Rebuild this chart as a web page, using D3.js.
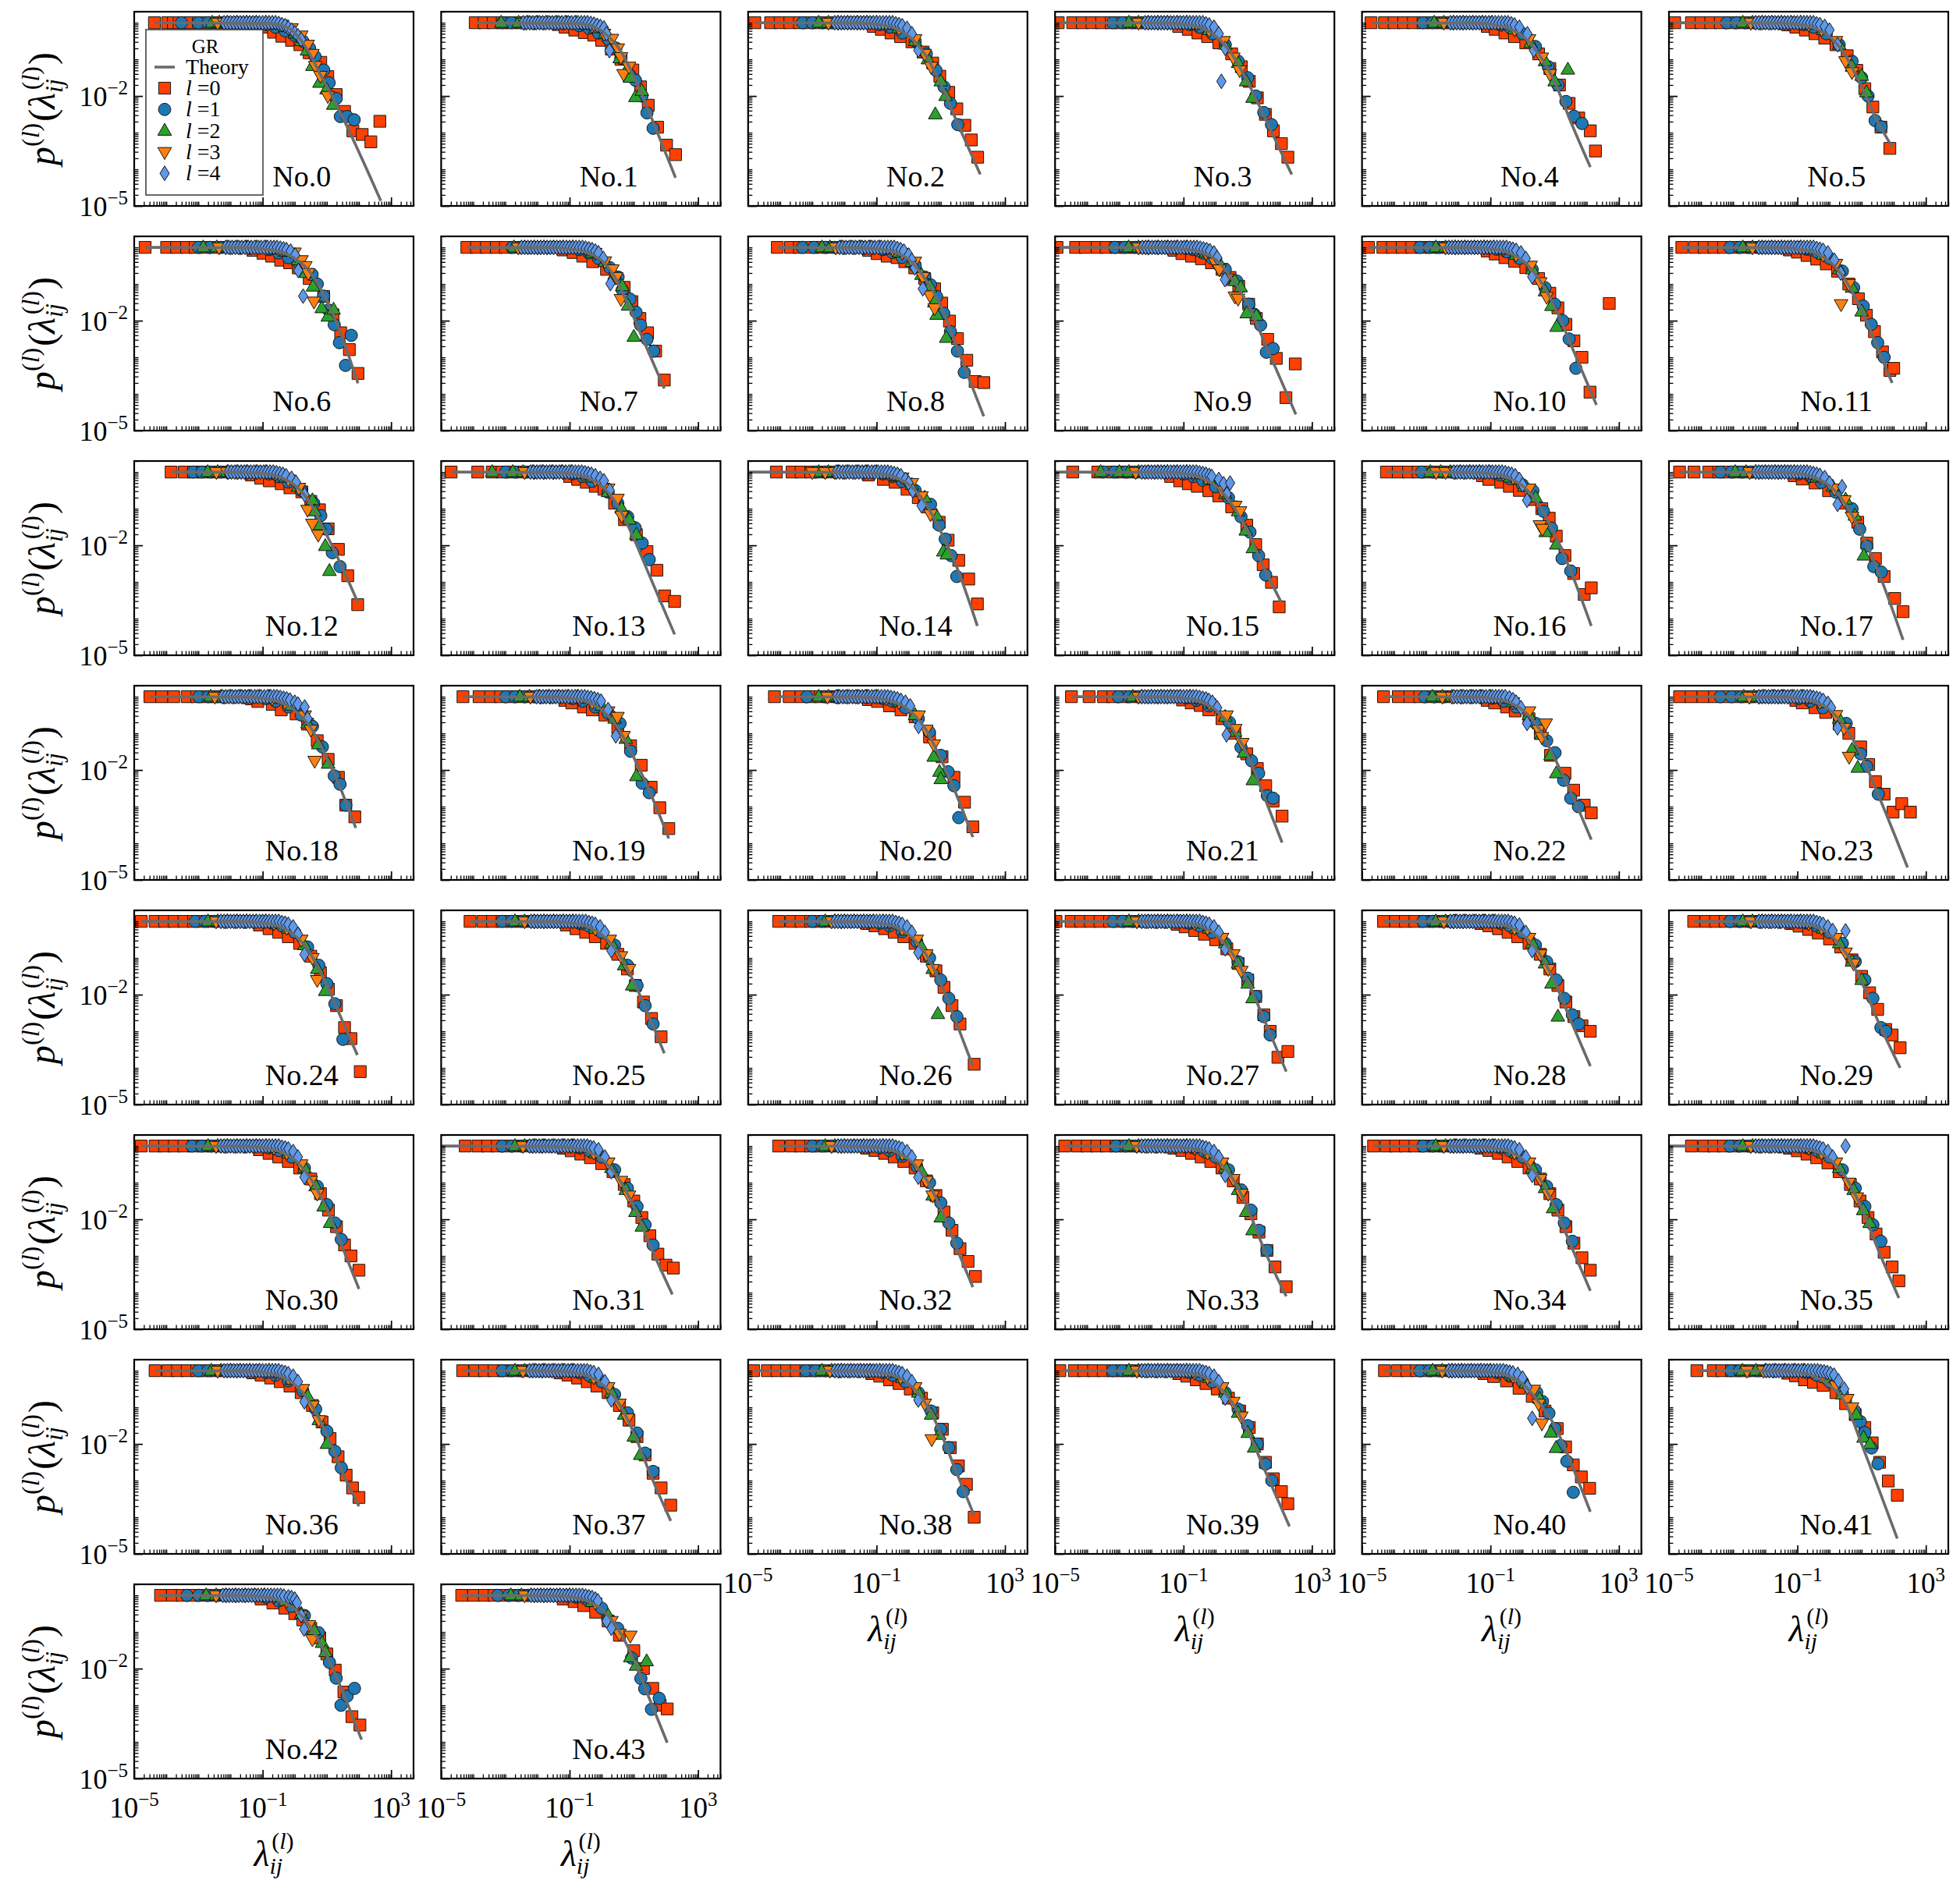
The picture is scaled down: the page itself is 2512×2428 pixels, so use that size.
<!DOCTYPE html>
<html>
<head>
<meta charset="utf-8">
<script src="https://cdn.jsdelivr.net/npm/d3@7"></script>
<style>
  body { margin: 0; background: #fff; }
  svg text { font-family: "Liberation Serif", "DejaVu Serif", "Noto Serif", "Times New Roman", serif; fill: #000; }
</style>
</head>
<body>
<svg id="fig" width="2512" height="2428" font-family="Liberation Serif, DejaVu Serif, serif"></svg>
<script>
// Each string is a list of points "log10(x),log10(y)"; a bare number means y = 1 (plateau).
const l0Pts = [
  "-4.37 -3.96 -3.78 -3.6 -3.42 -3.25 -3.0 -2.7 -2.4 -2.1 -1.8 -1.5 -1.25,-0.05 -0.97,-0.12 -0.66,-0.26 -0.4,-0.37 -0.1,-0.48 0.16,-0.6 0.45,-0.82 0.81,-1.08 1.03,-1.47 1.29,-1.96 1.55,-2.42 1.81,-2.95 2.1,-3.05 2.37,-3.25 2.65,-2.69",
  "-3.94 -3.66 -3.38 -3.1 -2.8 -2.5 -2.2 -1.9 -1.6 -1.35,-0.05 -1.14,-0.12 -0.84,-0.2 -0.54,-0.27 -0.25,-0.34 0.0,-0.48 0.3,-0.72 0.6,-1.0 0.97,-1.29 1.21,-1.75 1.45,-2.25 1.74,-2.85 2.02,-3.34 2.3,-3.6",
  "-4.79 -4.3 -4.0 -3.7 -3.4 -3.1 -2.8 -2.5 -2.2 -1.9 -1.6 -1.35 -1.1,-0.1 -0.85,-0.18 -0.55,-0.28 -0.25,-0.38 0.1,-0.52 0.45,-0.8 0.75,-1.1 0.97,-1.46 1.25,-1.9 1.5,-2.35 1.75,-2.8 1.95,-3.2 2.15,-3.67",
  "-4.9 -4.45 -4.15 -3.85 -3.55 -3.25 -2.95 -2.65 -2.35 -2.05 -1.75 -1.45 -1.15,-0.1 -0.85,-0.18 -0.55,-0.28 -0.25,-0.38 0.1,-0.55 0.5,-0.85 0.8,-1.2 1.05,-1.6 1.3,-2.05 1.55,-2.5 1.8,-2.95 2.05,-3.3 2.25,-3.67",
  "-4.72 -4.3 -4.0 -3.7 -3.4 -3.1 -2.8 -2.5 -2.2 -1.9 -1.6 -1.35 -1.1,-0.1 -0.85,-0.18 -0.55,-0.28 -0.25,-0.38 0.1,-0.55 0.5,-0.85 0.85,-1.25 1.15,-1.7 1.45,-2.2 1.75,-2.6 2.11,-2.95 2.27,-3.5",
  "-4.82 -4.3 -4.0 -3.7 -3.4 -3.1 -2.8 -2.5 -2.2 -1.9 -1.6 -1.3,-0.06 -1.05,-0.12 -0.75,-0.2 -0.45,-0.3 -0.15,-0.42 0.2,-0.6 0.55,-0.9 0.85,-1.3 1.1,-1.8 1.35,-2.3 1.6,-2.85 1.88,-3.43",
  "-4.66 -3.99 -3.68 -3.37 -3.1 -2.8 -2.5 -2.2 -1.9 -1.6 -1.3,-0.08 -0.99,-0.16 -0.72,-0.24 -0.44,-0.35 -0.16,-0.42 0.11,-0.56 0.45,-0.85 0.9,-1.34 1.19,-1.84 1.43,-2.33 1.7,-2.79 1.97,-3.44",
  "-4.2 -3.9 -3.59 -3.28 -3.0 -2.7 -2.4 -2.1 -1.8 -1.5 -1.2,-0.07 -0.89,-0.14 -0.59,-0.24 -0.28,-0.39 0.15,-0.6 0.45,-0.85 0.7,-1.09 0.94,-1.48 1.19,-1.94 1.43,-2.33 1.68,-2.83 1.95,-3.62",
  "-4.09 -3.68 -3.4 -3.0 -2.7 -2.4 -2.1 -1.8 -1.5 -1.25,-0.08 -0.98,-0.17 -0.67,-0.24 -0.36,-0.28 -0.12,-0.39 0.19,-0.56 0.5,-0.85 0.81,-1.13 1.03,-1.52 1.27,-2.01 1.52,-2.49 1.81,-3.08 2.07,-3.66 2.34,-3.69",
  "-4.94 -4.36 -4.06 -3.69 -3.41 -3.1 -2.8 -2.5 -2.2 -1.9 -1.6 -1.3,-0.08 -1.05,-0.17 -0.75,-0.24 -0.44,-0.31 -0.13,-0.42 0.2,-0.6 0.45,-0.82 0.72,-1.06 1.03,-1.55 1.27,-1.94 1.62,-2.51 1.89,-3.03 2.48,-3.18 2.19,-4.1",
  "-4.8 -4.35 -4.05 -3.75 -3.45 -3.15 -2.85 -2.55 -2.25 -1.95 -1.65 -1.35 -1.1,-0.1 -0.85,-0.18 -0.55,-0.28 -0.25,-0.38 0.1,-0.55 0.5,-0.85 0.85,-1.25 1.1,-1.65 1.35,-2.1 1.6,-2.55 1.85,-3.0 2.1,-3.95 2.7,-1.53",
  "-4.6 -4.2 -3.9 -3.6 -3.3 -3.0 -2.7 -2.4 -2.1 -1.8 -1.5 -1.25,-0.07 -1.0,-0.13 -0.7,-0.22 -0.4,-0.32 -0.1,-0.45 0.25,-0.65 0.6,-1.0 0.9,-1.4 1.15,-1.85 1.4,-2.3 1.65,-2.85 1.88,-3.36 2.0,-3.3",
  "-3.85 -3.44 -3.15 -2.85 -2.55 -2.25 -1.95 -1.65 -1.35,-0.08 -1.06,-0.17 -0.79,-0.24 -0.42,-0.32 -0.15,-0.43 0.22,-0.54 0.5,-0.8 0.77,-1.03 1.04,-1.55 1.36,-2.11 1.65,-2.83 1.96,-3.62",
  "-4.69 -3.86 -3.41 -3.1 -2.8 -2.5 -2.2 -1.9 -1.6 -1.3 -1.0,-0.12 -0.75,-0.2 -0.48,-0.28 -0.2,-0.39 0.07,-0.47 0.4,-0.85 0.71,-1.3 1.08,-1.71 1.41,-2.17 1.72,-2.68 1.96,-3.38 2.27,-3.53",
  "-4.12 -3.63 -3.35 -3.05 -2.75 -2.45 -2.15 -1.85 -1.55 -1.25,-0.08 -0.79,-0.2 -0.42,-0.28 -0.05,-0.47 0.3,-0.7 0.6,-0.95 0.95,-1.37 1.23,-1.86 1.56,-2.41 1.87,-2.92 2.14,-3.6",
  "-4.45 -3.67 -3.21 -2.9 -2.6 -2.3 -2.0 -1.7 -1.4,-0.12 -1.12,-0.24 -0.85,-0.32 -0.57,-0.39 -0.21,-0.51 0.1,-0.65 0.5,-0.95 0.97,-1.45 1.25,-1.98 1.48,-2.53 1.74,-3.01 1.98,-3.68",
  "-4.24 -3.87 -3.55 -3.25 -2.95 -2.65 -2.35 -2.05 -1.75 -1.45 -1.25,-0.1 -1.05,-0.2 -0.68,-0.28 -0.41,-0.39 -0.1,-0.5 0.3,-0.75 0.6,-1.0 0.83,-1.26 1.05,-1.75 1.32,-2.28 1.59,-2.77 1.92,-3.34 2.14,-3.16",
  "-4.67 -4.22 -3.76 -3.45 -3.15 -2.85 -2.55 -2.25 -1.95 -1.65 -1.35 -1.1,-0.1 -0.85,-0.19 -0.45,-0.3 -0.03,-0.51 0.4,-0.85 0.88,-1.37 1.16,-1.94 1.43,-2.36 1.7,-2.85 2.03,-3.45 2.29,-3.81",
  "-4.51 -4.14 -3.77 -3.35 -3.05 -2.75 -2.45 -2.15 -1.85 -1.55 -1.35,-0.06 -1.15,-0.13 -0.7,-0.21 -0.42,-0.36 0.04,-0.47 0.4,-0.75 0.7,-1.2 1.04,-1.71 1.36,-2.2 1.59,-2.96 1.87,-3.28",
  "-4.32 -3.82 -3.46 -3.15 -2.85 -2.55 -2.25 -1.95 -1.65 -1.35 -1.15,-0.1 -0.93,-0.17 -0.57,-0.28 -0.29,-0.36 0.1,-0.5 0.5,-0.85 0.9,-1.34 1.23,-1.87 1.54,-2.47 1.81,-3.03 2.09,-3.6",
  "-4.18 -3.72 -3.35 -3.05 -2.75 -2.45 -2.15 -1.85 -1.55 -1.25,-0.08 -0.97,-0.13 -0.6,-0.25 -0.24,-0.36 0.2,-0.55 0.65,-1.1 1.04,-1.64 1.41,-2.2 1.74,-2.88 2.0,-3.55",
  "-4.49 -3.94 -3.49 -3.2 -2.9 -2.6 -2.3 -2.0 -1.7 -1.4 -1.03,-0.09 -0.76,-0.17 -0.48,-0.24 -0.21,-0.36 0.2,-0.6 0.6,-1.0 0.97,-1.56 1.3,-1.96 1.56,-2.43 1.79,-2.85 2.07,-3.26",
  "-4.33 -3.87 -3.51 -3.2 -2.9 -2.6 -2.3 -2.0 -1.7 -1.4 -1.1,-0.1 -0.87,-0.17 -0.5,-0.28 -0.23,-0.39 0.2,-0.6 0.55,-1.0 0.87,-1.6 1.32,-2.09 1.59,-2.55 1.92,-2.96 2.14,-3.17",
  "-4.67 -4.31 -3.94 -3.58 -3.21 -2.85 -2.5 -2.2 -1.9 -1.6 -1.3 -1.05,-0.1 -0.85,-0.17 -0.45,-0.3 -0.12,-0.43 0.3,-0.75 0.6,-1.0 0.97,-1.37 1.22,-1.85 1.43,-2.32 1.7,-2.66 1.98,-3.15 2.25,-2.92 2.52,-3.15",
  "-4.78 -4.35 -4.05 -3.75 -3.45 -3.15 -2.85 -2.55 -2.25 -1.95 -1.65 -1.35 -1.1,-0.1 -0.8,-0.2 -0.5,-0.3 -0.2,-0.42 0.15,-0.6 0.5,-0.95 0.8,-1.4 1.05,-1.85 1.3,-2.3 1.55,-2.9 1.75,-3.2 2.04,-4.1",
  "-4.1 -3.7 -3.4 -3.1 -2.8 -2.5 -2.2 -1.9 -1.6 -1.35 -1.1,-0.1 -0.8,-0.2 -0.5,-0.3 -0.2,-0.42 0.15,-0.6 0.5,-0.9 0.8,-1.3 1.05,-1.75 1.3,-2.2 1.55,-2.65 1.85,-3.15",
  "-4.05 -3.65 -3.35 -3.05 -2.75 -2.45 -2.15 -1.85 -1.55 -1.3,-0.06 -1.05,-0.12 -0.75,-0.2 -0.45,-0.3 -0.15,-0.42 0.2,-0.6 0.55,-0.95 0.85,-1.35 1.1,-1.8 1.35,-2.3 1.6,-2.8 2.04,-3.9",
  "-4.97 -4.5 -4.2 -3.9 -3.6 -3.3 -3.0 -2.7 -2.4 -2.1 -1.8 -1.5 -1.2,-0.08 -0.95,-0.15 -0.65,-0.25 -0.35,-0.35 0.0,-0.5 0.35,-0.75 0.7,-1.15 1.0,-1.6 1.25,-2.05 1.5,-2.55 1.7,-3.0 1.94,-3.71 2.25,-3.55",
  "-4.33 -3.95 -3.65 -3.35 -3.05 -2.75 -2.45 -2.15 -1.85 -1.55 -1.3,-0.06 -1.05,-0.12 -0.75,-0.2 -0.45,-0.3 -0.15,-0.42 0.2,-0.6 0.55,-0.9 0.85,-1.3 1.1,-1.75 1.35,-2.2 1.6,-2.6 1.85,-2.85 2.11,-3.0",
  "-4.23 -3.85 -3.55 -3.25 -2.95 -2.65 -2.35 -2.05 -1.75 -1.45 -1.2,-0.06 -0.95,-0.13 -0.65,-0.22 -0.35,-0.32 0.0,-0.48 0.35,-0.7 0.7,-1.05 1.0,-1.5 1.25,-1.95 1.5,-2.4 1.75,-2.95 1.95,-3.1 2.2,-3.45",
  "-4.78 -4.35 -4.05 -3.75 -3.45 -3.15 -2.85 -2.55 -2.25 -1.95 -1.65 -1.35 -1.1,-0.1 -0.8,-0.2 -0.5,-0.3 -0.2,-0.42 0.15,-0.6 0.5,-0.9 0.8,-1.3 1.05,-1.75 1.3,-2.2 1.55,-2.7 1.75,-3.0 2.0,-3.39",
  "-4.25 -3.85 -3.55 -3.25 -2.95 -2.65 -2.35 -2.05 -1.75 -1.45 -1.2,-0.06 -0.95,-0.13 -0.65,-0.22 -0.35,-0.32 0.0,-0.48 0.35,-0.7 0.7,-1.05 1.0,-1.5 1.25,-1.95 1.5,-2.45 1.75,-2.95 2.0,-3.25 2.23,-3.33",
  "-4.05 -3.65 -3.35 -3.05 -2.75 -2.45 -2.15 -1.85 -1.55 -1.3,-0.06 -1.05,-0.12 -0.75,-0.2 -0.45,-0.3 -0.15,-0.42 0.2,-0.6 0.55,-0.95 0.85,-1.35 1.1,-1.8 1.35,-2.3 1.6,-2.8 1.85,-3.15 2.08,-3.56",
  "-4.7 -4.3 -4.0 -3.7 -3.4 -3.1 -2.8 -2.5 -2.2 -1.9 -1.6 -1.3,-0.06 -1.05,-0.12 -0.75,-0.2 -0.45,-0.3 -0.15,-0.42 0.2,-0.6 0.55,-0.95 0.85,-1.4 1.1,-1.85 1.35,-2.35 1.6,-2.85 1.85,-3.3 2.2,-3.84",
  "-4.64 -4.25 -3.95 -3.65 -3.35 -3.05 -2.75 -2.45 -2.15 -1.85 -1.55 -1.3,-0.06 -1.05,-0.12 -0.75,-0.2 -0.45,-0.3 -0.15,-0.42 0.2,-0.6 0.55,-0.9 0.85,-1.3 1.1,-1.75 1.35,-2.2 1.6,-2.65 1.85,-3.05 2.11,-3.39",
  "-4.3 -3.9 -3.6 -3.3 -3.0 -2.7 -2.4 -2.1 -1.8 -1.5 -1.25,-0.06 -1.0,-0.13 -0.7,-0.22 -0.4,-0.32 -0.05,-0.46 0.3,-0.7 0.65,-1.05 0.95,-1.5 1.2,-1.95 1.45,-2.4 1.7,-2.9 1.95,-3.3 2.16,-3.68",
  "-4.35 -3.95 -3.65 -3.35 -3.05 -2.75 -2.45 -2.15 -1.85 -1.55 -1.3,-0.06 -1.05,-0.12 -0.75,-0.2 -0.45,-0.3 -0.15,-0.42 0.2,-0.6 0.55,-0.95 0.85,-1.4 1.1,-1.85 1.35,-2.35 1.6,-2.85 1.8,-3.2 2.0,-3.46",
  "-4.33 -3.95 -3.65 -3.35 -3.05 -2.75 -2.45 -2.15 -1.85 -1.55 -1.3,-0.06 -1.05,-0.12 -0.75,-0.2 -0.45,-0.3 -0.15,-0.42 0.2,-0.6 0.55,-0.95 0.85,-1.35 1.1,-1.8 1.35,-2.3 1.6,-2.8 1.85,-3.2 2.15,-3.67",
  "-4.83 -4.4 -4.1 -3.8 -3.5 -3.2 -2.9 -2.6 -2.3 -2.0 -1.7 -1.4 -1.15,-0.08 -0.9,-0.15 -0.6,-0.25 -0.3,-0.35 0.05,-0.5 0.4,-0.75 0.75,-1.15 1.05,-1.6 1.3,-2.1 1.55,-2.6 1.8,-3.1 2.04,-4.0",
  "-4.85 -4.4 -4.1 -3.8 -3.5 -3.2 -2.9 -2.6 -2.3 -2.0 -1.7 -1.4 -1.15,-0.08 -0.9,-0.15 -0.6,-0.25 -0.3,-0.35 0.05,-0.5 0.4,-0.75 0.75,-1.1 1.05,-1.55 1.3,-2.0 1.55,-2.5 1.8,-2.95 2.05,-3.3 2.25,-3.63",
  "-4.3 -3.9 -3.6 -3.3 -3.0 -2.7 -2.4 -2.1 -1.8 -1.5 -1.2,-0.08 -0.9,-0.16 -0.5,-0.28 -0.11,-0.48 0.3,-0.7 0.7,-1.1 1.08,-1.58 1.34,-2.08 1.58,-2.57 1.83,-2.9 2.09,-3.21",
  "-4.13 -3.62 -3.35 -3.05 -2.75 -2.45 -2.15 -1.85 -1.55 -1.3,-0.07 -1.06,-0.14 -0.78,-0.25 -0.5,-0.32 -0.2,-0.4 0.2,-0.6 0.5,-0.9 0.8,-1.2 1.1,-1.55 1.33,-1.97 1.56,-2.5 1.83,-3.01 2.11,-3.4",
  "-4.18 -3.81 -3.5 -3.2 -2.9 -2.6 -2.3 -2.0 -1.7 -1.42 -1.05,-0.1 -0.68,-0.21 -0.31,-0.35 0.0,-0.5 0.25,-0.67 0.5,-0.9 0.78,-1.16 1.0,-1.6 1.26,-2.04 1.53,-2.64 1.78,-3.31 2.03,-3.54",
  "-4.36 -3.99 -3.65 -3.35 -3.05 -2.75 -2.45 -2.15 -1.85 -1.55 -1.2,-0.1 -0.86,-0.17 -0.56,-0.28 -0.19,-0.46 0.2,-0.7 0.55,-1.09 1.0,-1.51 1.3,-2.0 1.59,-2.54 1.82,-3.0 2.04,-3.1"
];
const l1Pts = [
  "-3.53 -3.0 -2.7 -2.4 -2.1 -1.8 -1.5 -1.2 -0.9,-0.05 -0.6,-0.12 -0.3,-0.22 0.0,-0.35 0.25,-0.5 0.46,-0.69 0.63,-0.92 0.9,-1.29 1.07,-1.64 1.29,-2.07 1.42,-2.56 1.63,-2.56 1.85,-2.65",
  "-3.09 -2.81 -2.5 -2.2 -1.9 -1.6 -1.3 -1.0 -0.7,-0.08 -0.4,-0.15 -0.1,-0.28 0.2,-0.45 0.44,-0.69 0.6,-0.97 0.88,-1.43 1.05,-1.57 1.25,-2.0 1.41,-2.46 1.6,-2.88",
  "-3.3 -3.0 -2.7 -2.4 -2.1 -1.8 -1.5 -1.2 -0.9,-0.05 -0.6,-0.12 -0.2,-0.28 0.2,-0.5 0.55,-0.85 0.85,-1.3 1.1,-1.75 1.3,-2.2 1.53,-2.78",
  "-3.2 -2.9 -2.6 -2.3 -2.0 -1.7 -1.4 -1.1 -0.8,-0.05 -0.5,-0.12 -0.1,-0.3 0.3,-0.6 0.7,-1.05 1.0,-1.5 1.25,-2.0 1.5,-2.45 1.74,-2.78",
  "-3.1 -2.8 -2.5 -2.2 -1.9 -1.6 -1.3 -1.0 -0.7,-0.05 -0.4,-0.12 0.0,-0.3 0.4,-0.65 0.8,-1.2 1.1,-1.7 1.35,-2.15 1.6,-2.55 1.85,-2.75",
  "-3.2 -2.9 -2.6 -2.3 -2.0 -1.7 -1.4 -1.1 -0.8,-0.05 -0.5,-0.12 -0.1,-0.3 0.3,-0.6 0.7,-1.05 1.0,-1.5 1.2,-2.0 1.42,-2.67 1.61,-2.84",
  "-3.0 -2.64 -2.3 -2.0 -1.7 -1.4 -1.1 -0.8,-0.06 -0.5,-0.15 -0.2,-0.28 0.15,-0.45 0.54,-0.74 0.7,-1.0 0.9,-1.33 1.05,-1.71 1.23,-2.11 1.39,-2.6 1.76,-2.4 1.58,-3.22",
  "-2.79 -2.5 -2.2 -1.9 -1.6 -1.3 -1.0 -0.7,-0.06 -0.4,-0.15 -0.1,-0.3 0.25,-0.55 0.51,-0.81 0.64,-1.16 0.88,-1.41 1.07,-1.77 1.21,-2.12 1.41,-2.51 1.62,-2.83",
  "-3.31 -2.95 -2.6 -2.3 -2.0 -1.7 -1.4 -1.1 -0.8,-0.06 -0.5,-0.14 -0.2,-0.27 0.2,-0.5 0.5,-0.81 0.68,-1.02 0.87,-1.34 1.09,-1.8 1.3,-2.3 1.52,-2.83 1.73,-3.41",
  "-3.14 -2.83 -2.5 -2.2 -1.9 -1.6 -1.3 -1.0 -0.7,-0.06 -0.4,-0.15 -0.1,-0.3 0.3,-0.6 0.66,-0.92 1.03,-1.55 1.21,-1.83 1.4,-2.12 1.58,-2.86 1.79,-2.76",
  "-3.2 -2.9 -2.6 -2.3 -2.0 -1.7 -1.4 -1.1 -0.8,-0.05 -0.5,-0.12 -0.1,-0.3 0.3,-0.6 0.7,-1.1 1.0,-1.55 1.25,-2.0 1.45,-2.5 1.66,-3.3",
  "-3.1 -2.8 -2.5 -2.2 -1.9 -1.6 -1.3 -1.0 -0.7,-0.05 -0.4,-0.12 0.0,-0.3 0.4,-0.65 0.75,-1.1 1.05,-1.6 1.3,-2.1 1.5,-2.6 1.7,-3.0",
  "-3.17 -2.89 -2.6 -2.3 -2.0 -1.7 -1.4 -1.1 -0.8,-0.05 -0.5,-0.13 -0.2,-0.27 0.2,-0.5 0.59,-0.85 0.81,-1.19 0.99,-1.56 1.17,-2.2 1.41,-2.58",
  "-2.99 -2.7 -2.4 -2.1 -1.8 -1.5 -1.2 -0.9,-0.05 -0.6,-0.12 -0.3,-0.25 0.2,-0.55 0.5,-0.85 0.81,-1.22 1.04,-1.52 1.26,-1.94 1.48,-2.39",
  "-2.89 -2.6 -2.3 -2.0 -1.7 -1.4 -1.1 -0.8,-0.05 -0.5,-0.12 -0.2,-0.25 0.2,-0.5 0.68,-0.88 0.95,-1.45 1.14,-1.83 1.32,-2.28 1.5,-2.85",
  "-3.49 -3.15 -2.8 -2.5 -2.2 -1.9 -1.6 -1.3 -1.0,-0.05 -0.7,-0.12 -0.4,-0.22 0.0,-0.4 0.4,-0.7 0.79,-1.22 1.07,-1.64 1.34,-2.28 1.56,-2.81",
  "-3.14 -2.8 -2.5 -2.2 -1.9 -1.6 -1.3 -1.0 -0.7,-0.08 -0.4,-0.18 0.0,-0.35 0.32,-0.51 0.65,-1.07 0.9,-1.53 1.23,-2.36 1.5,-2.7",
  "-3.4 -3.05 -2.75 -2.45 -2.15 -1.85 -1.55 -1.25 -0.95,-0.05 -0.6,-0.12 -0.25,-0.28 0.2,-0.55 0.7,-1.0 0.94,-1.56 1.16,-2.02 1.38,-2.58 1.61,-2.73",
  "-2.99 -2.7 -2.4 -2.1 -1.8 -1.5 -1.2 -0.9,-0.05 -0.6,-0.12 -0.2,-0.28 0.2,-0.5 0.55,-0.81 0.86,-1.37 1.23,-2.16 1.41,-2.39 1.59,-2.96",
  "-2.99 -2.7 -2.4 -2.1 -1.8 -1.5 -1.2 -0.9,-0.05 -0.6,-0.12 -0.2,-0.28 0.2,-0.45 0.57,-0.73 0.9,-1.49 1.26,-2.36 1.48,-2.62",
  "-3.17 -2.62 -2.3 -2.0 -1.7 -1.4 -1.1 -0.8,-0.05 -0.5,-0.12 -0.1,-0.3 0.3,-0.6 0.64,-0.96 1.0,-1.6 1.23,-2.05 1.41,-2.43 1.56,-3.3",
  "-3.03 -2.7 -2.4 -2.1 -1.8 -1.5 -1.2 -0.9,-0.03 -0.6,-0.1 -0.2,-0.25 0.43,-0.7 0.79,-1.38 1.12,-1.75 1.34,-2.09 1.61,-2.7 1.79,-2.77",
  "-3.05 -2.75 -2.45 -2.15 -1.85 -1.55 -1.25 -0.95,-0.04 -0.6,-0.12 -0.2,-0.28 0.41,-0.73 0.75,-1.2 1.01,-1.53 1.28,-2.28 1.5,-2.77 1.74,-3.0",
  "-3.4 -3.05 -2.75 -2.45 -2.15 -1.85 -1.55 -1.25 -0.95,-0.05 -0.6,-0.12 -0.2,-0.3 0.52,-0.73 0.97,-1.56 1.16,-1.9 1.52,-2.66",
  "-3.1 -2.8 -2.5 -2.2 -1.9 -1.6 -1.3 -1.0 -0.7,-0.05 -0.4,-0.12 0.0,-0.3 0.4,-0.7 0.75,-1.2 1.0,-1.7 1.25,-2.25 1.5,-3.22",
  "-3.1 -2.8 -2.5 -2.2 -1.9 -1.6 -1.3 -1.0 -0.7,-0.05 -0.4,-0.12 0.0,-0.3 0.4,-0.65 0.8,-1.2 1.1,-1.75 1.35,-2.3 1.6,-2.8",
  "-3.0 -2.7 -2.4 -2.1 -1.8 -1.5 -1.2 -0.9,-0.05 -0.6,-0.12 -0.2,-0.28 0.25,-0.55 0.65,-1.0 1.0,-1.6 1.25,-2.1 1.5,-2.6",
  "-3.2 -2.9 -2.6 -2.3 -2.0 -1.7 -1.4 -1.1 -0.8,-0.05 -0.5,-0.12 -0.1,-0.3 0.3,-0.6 0.7,-1.1 1.0,-1.55 1.25,-2.05 1.5,-2.6 1.7,-3.1",
  "-3.1 -2.8 -2.5 -2.2 -1.9 -1.6 -1.3 -1.0 -0.7,-0.05 -0.4,-0.12 0.0,-0.3 0.4,-0.65 0.75,-1.1 1.05,-1.6 1.3,-2.1 1.55,-2.55 1.75,-2.8",
  "-3.1 -2.8 -2.5 -2.2 -1.9 -1.6 -1.3 -1.0 -0.7,-0.05 -0.4,-0.12 0.0,-0.3 0.4,-0.6 0.8,-1.1 1.1,-1.6 1.35,-2.1 1.6,-2.9 1.75,-3.0",
  "-3.2 -2.9 -2.6 -2.3 -2.0 -1.7 -1.4 -1.1 -0.8,-0.05 -0.5,-0.12 -0.1,-0.3 0.3,-0.6 0.7,-1.1 1.0,-1.6 1.25,-2.1 1.45,-2.55",
  "-3.1 -2.8 -2.5 -2.2 -1.9 -1.6 -1.3 -1.0 -0.7,-0.05 -0.4,-0.12 0.0,-0.3 0.4,-0.65 0.8,-1.15 1.1,-1.65 1.35,-2.15 1.6,-2.7",
  "-3.0 -2.7 -2.4 -2.1 -1.8 -1.5 -1.2 -0.9,-0.05 -0.6,-0.12 -0.2,-0.28 0.25,-0.55 0.65,-1.0 1.0,-1.55 1.25,-2.1 1.5,-2.65",
  "-3.1 -2.8 -2.5 -2.2 -1.9 -1.6 -1.3 -1.0 -0.7,-0.05 -0.4,-0.12 0.0,-0.3 0.4,-0.65 0.8,-1.2 1.1,-1.75 1.35,-2.3 1.6,-2.85",
  "-3.1 -2.8 -2.5 -2.2 -1.9 -1.6 -1.3 -1.0 -0.7,-0.05 -0.4,-0.12 0.0,-0.3 0.4,-0.65 0.75,-1.1 1.05,-1.6 1.3,-2.1 1.55,-2.6",
  "-3.1 -2.8 -2.5 -2.2 -1.9 -1.6 -1.3 -1.0 -0.7,-0.05 -0.4,-0.12 0.0,-0.3 0.4,-0.65 0.8,-1.15 1.1,-1.65 1.35,-2.15 1.6,-2.6",
  "-3.0 -2.7 -2.4 -2.1 -1.8 -1.5 -1.2 -0.9,-0.05 -0.6,-0.12 -0.2,-0.28 0.25,-0.55 0.65,-1.05 1.0,-1.65 1.25,-2.2 1.45,-2.65",
  "-3.1 -2.8 -2.5 -2.2 -1.9 -1.6 -1.3 -1.0 -0.7,-0.05 -0.4,-0.12 0.0,-0.3 0.4,-0.65 0.8,-1.15 1.1,-1.7 1.35,-2.25 1.6,-2.75",
  "-3.2 -2.9 -2.6 -2.3 -2.0 -1.7 -1.4 -1.1 -0.8,-0.05 -0.5,-0.12 -0.1,-0.3 0.3,-0.6 0.7,-1.1 1.0,-1.6 1.25,-2.1 1.5,-2.7 1.7,-3.3",
  "-3.2 -2.9 -2.6 -2.3 -2.0 -1.7 -1.4 -1.1 -0.8,-0.05 -0.5,-0.12 -0.1,-0.3 0.3,-0.6 0.7,-1.05 1.0,-1.5 1.3,-2.0 1.55,-2.55 1.75,-3.0",
  "-3.2 -2.9 -2.6 -2.3 -2.0 -1.7 -1.4 -1.1 -0.8,-0.05 -0.4,-0.15 0.0,-0.3 0.44,-0.59 0.62,-0.84 0.82,-1.16 1.01,-1.58 1.19,-2.04 1.38,-2.47 1.58,-3.32",
  "-3.07 -2.8 -2.5 -2.2 -1.9 -1.6 -1.3 -1.0 -0.7,-0.05 -0.4,-0.12 0.0,-0.3 0.4,-0.6 0.78,-1.09 0.96,-1.39 1.1,-1.69 1.31,-2.11 1.51,-2.54",
  "-3.36 -2.99 -2.7 -2.4 -2.1 -1.8 -1.5 -1.2 -0.9,-0.05 -0.5,-0.15 -0.1,-0.3 0.3,-0.55 0.74,-1.02 1.08,-1.83 1.29,-2.26 1.44,-3.0 1.63,-2.75 1.86,-2.54",
  "-3.24 -2.9 -2.6 -2.3 -2.0 -1.7 -1.4 -1.1 -0.8,-0.05 -0.4,-0.15 0.0,-0.35 0.5,-0.9 0.93,-1.71 1.22,-2.27 1.34,-2.55 1.55,-3.11 1.79,-2.81"
];
const l2Pts = [
  "-2.57 -2.35 -2.1 -1.8 -1.5 -1.2 -0.9 -0.6,-0.05 -0.3,-0.12 0.0,-0.3 0.2,-0.5 0.38,-0.76 0.55,-1.18 0.77,-1.64 0.99,-1.82 1.2,-2.24",
  "-3.13 -2.59 -2.3 -2.0 -1.7 -1.4 -1.1 -0.8 -0.5,-0.05 -0.2,-0.15 0.1,-0.3 0.35,-0.6 0.56,-0.97 0.8,-1.26 0.88,-1.5 1.05,-2.03 1.25,-1.86",
  "-2.8 -2.5 -2.2 -1.9 -1.6 -1.3 -1.0 -0.7,-0.05 -0.3,-0.15 0.2,-0.5 0.6,-1.0 0.83,-2.5 1.0,-1.6 1.15,-2.0",
  "-2.7 -2.4 -2.1 -1.8 -1.5 -1.2 -0.9 -0.6,-0.05 -0.2,-0.2 0.3,-0.6 0.7,-1.1 0.95,-1.6 1.15,-2.05",
  "-2.75 -2.45 -2.15 -1.85 -1.55 -1.25 -0.95 -0.65,-0.05 -0.25,-0.18 0.25,-0.55 0.7,-1.05 1.0,-1.6 1.41,-1.28",
  "-2.7 -2.4 -2.1 -1.8 -1.5 -1.2 -0.9 -0.6,-0.05 -0.2,-0.2 0.3,-0.6 0.7,-1.2 1.0,-1.45 1.15,-1.9",
  "-2.85 -2.43 -2.1 -1.8 -1.5 -1.2 -0.9 -0.6,-0.05 -0.3,-0.12 0.1,-0.35 0.35,-0.7 0.57,-1.07 0.84,-1.66 1.03,-1.89 1.21,-1.7",
  "-2.73 -2.4 -2.1 -1.8 -1.5 -1.2 -0.9 -0.6,-0.05 -0.3,-0.15 0.1,-0.4 0.4,-0.75 0.64,-1.06 0.82,-1.59 1.0,-2.44",
  "-2.7 -2.45 -2.1 -1.8 -1.5 -1.2 -0.9 -0.6,-0.05 -0.3,-0.14 0.1,-0.4 0.4,-0.75 0.66,-1.06 0.8,-1.5 0.87,-1.84 1.17,-2.47",
  "-2.71 -2.4 -2.1 -1.8 -1.5 -1.2 -0.9 -0.6,-0.05 -0.3,-0.14 0.1,-0.4 0.6,-0.92 0.78,-1.09 0.97,-1.8 1.27,-1.87",
  "-2.7 -2.4 -2.1 -1.8 -1.5 -1.2 -0.9 -0.6,-0.05 -0.2,-0.2 0.3,-0.6 0.7,-1.2 0.9,-1.6 1.06,-2.17",
  "-2.7 -2.4 -2.1 -1.8 -1.5 -1.2 -0.9 -0.6,-0.05 -0.2,-0.2 0.3,-0.6 0.7,-1.1 1.0,-1.75",
  "-2.71 -2.4 -2.1 -1.8 -1.5 -1.2 -0.9 -0.6,-0.05 -0.3,-0.15 0.1,-0.4 0.55,-0.77 0.62,-1.07 0.77,-1.45 0.95,-2.02 1.08,-2.7",
  "-3.41 -2.77 -2.45 -2.15 -1.85 -1.55 -1.25 -0.95 -0.65,-0.05 -0.3,-0.15 0.2,-0.55 0.62,-1.0 0.86,-1.3 1.08,-1.71",
  "-2.8 -2.5 -2.2 -1.9 -1.6 -1.3 -1.0 -0.7,-0.05 -0.4,-0.12 0.1,-0.35 0.5,-0.7 0.86,-1.19 1.08,-2.17 1.19,-2.25",
  "-3.58 -3.0 -2.7 -2.4 -2.1 -1.8 -1.5 -1.2 -0.9 -0.6,-0.05 -0.2,-0.2 0.3,-0.6 0.7,-1.07 0.94,-1.6 1.16,-2.08",
  "-2.87 -2.55 -2.25 -1.95 -1.65 -1.35 -1.05 -0.75,-0.05 -0.4,-0.15 0.05,-0.4 0.41,-0.7 0.72,-1.64 1.05,-1.98",
  "-2.94 -2.6 -2.3 -2.0 -1.7 -1.4 -1.1 -0.8,-0.05 -0.4,-0.15 0.1,-0.4 0.5,-0.75 0.79,-1.19 1.07,-2.28",
  "-2.62 -2.3 -2.0 -1.7 -1.4 -1.1 -0.8 -0.5,-0.05 -0.1,-0.25 0.4,-0.73 0.73,-1.3 1.04,-1.83",
  "-2.55 -2.25 -1.95 -1.65 -1.35 -1.05 -0.75 -0.45,-0.05 0.0,-0.25 0.4,-0.6 0.75,-1.15 1.08,-2.17",
  "-2.8 -2.5 -2.2 -1.9 -1.6 -1.3 -1.0 -0.7,-0.05 -0.3,-0.15 0.2,-0.5 0.78,-1.64 0.96,-2.05 1.0,-2.25",
  "-2.58 -2.3 -2.0 -1.7 -1.4 -1.1 -0.8 -0.5,-0.05 -0.1,-0.2 0.3,-0.55 0.61,-0.96 0.88,-1.53 1.16,-2.28",
  "-2.81 -2.5 -2.2 -1.9 -1.6 -1.3 -1.0 -0.7,-0.05 -0.3,-0.15 0.2,-0.5 0.59,-1.04 0.87,-1.6 1.05,-2.09",
  "-2.67 -2.35 -2.05 -1.75 -1.45 -1.15 -0.85 -0.55,-0.05 -0.2,-0.18 0.3,-0.6 0.7,-1.45 0.88,-1.94",
  "-2.7 -2.4 -2.1 -1.8 -1.5 -1.2 -0.9 -0.6,-0.05 -0.2,-0.2 0.3,-0.65 0.7,-1.3 0.95,-1.9",
  "-2.7 -2.4 -2.1 -1.8 -1.5 -1.2 -0.9 -0.6,-0.05 -0.2,-0.2 0.3,-0.6 0.7,-1.2 0.95,-1.75",
  "-2.6 -2.3 -2.0 -1.7 -1.4 -1.1 -0.8 -0.5,-0.05 -0.1,-0.25 0.4,-0.7 0.75,-1.3 0.91,-2.53",
  "-2.7 -2.4 -2.1 -1.8 -1.5 -1.2 -0.9 -0.6,-0.05 -0.2,-0.2 0.3,-0.6 0.7,-1.15 1.0,-1.7 1.15,-2.1",
  "-2.7 -2.4 -2.1 -1.8 -1.5 -1.2 -0.9 -0.6,-0.05 -0.2,-0.2 0.3,-0.6 0.7,-1.15 0.9,-1.7 1.1,-2.6",
  "-2.7 -2.4 -2.1 -1.8 -1.5 -1.2 -0.9 -0.6,-0.05 -0.2,-0.2 0.3,-0.6 0.7,-1.1 1.0,-1.6",
  "-2.7 -2.4 -2.1 -1.8 -1.5 -1.2 -0.9 -0.6,-0.05 -0.2,-0.2 0.3,-0.6 0.65,-1.1 0.9,-1.65 1.1,-2.1",
  "-2.7 -2.4 -2.1 -1.8 -1.5 -1.2 -0.9 -0.6,-0.05 -0.2,-0.2 0.3,-0.6 0.75,-1.2 1.05,-1.8 1.25,-2.2",
  "-2.6 -2.3 -2.0 -1.7 -1.4 -1.1 -0.8 -0.5,-0.05 -0.1,-0.25 0.4,-0.7 0.75,-1.35 1.0,-1.95",
  "-2.7 -2.4 -2.1 -1.8 -1.5 -1.2 -0.9 -0.6,-0.05 -0.2,-0.2 0.3,-0.6 0.7,-1.2 0.95,-1.8 1.15,-2.3",
  "-2.7 -2.4 -2.1 -1.8 -1.5 -1.2 -0.9 -0.6,-0.05 -0.2,-0.2 0.3,-0.6 0.7,-1.15 0.95,-1.7",
  "-2.7 -2.4 -2.1 -1.8 -1.5 -1.2 -0.9 -0.6,-0.05 -0.2,-0.2 0.3,-0.6 0.75,-1.2 1.05,-1.75 1.25,-2.1",
  "-2.6 -2.3 -2.0 -1.7 -1.4 -1.1 -0.8 -0.5,-0.05 -0.1,-0.25 0.4,-0.7 0.75,-1.35 1.0,-2.0",
  "-2.7 -2.4 -2.1 -1.8 -1.5 -1.2 -0.9 -0.6,-0.05 -0.2,-0.2 0.3,-0.6 0.7,-1.2 1.0,-1.8 1.2,-2.3",
  "-2.7 -2.4 -2.1 -1.8 -1.5 -1.2 -0.9 -0.6,-0.05 -0.2,-0.2 0.3,-0.6 0.7,-1.2 0.95,-1.75",
  "-2.7 -2.4 -2.1 -1.8 -1.5 -1.2 -0.9 -0.6,-0.05 -0.2,-0.2 0.3,-0.6 0.7,-1.15 1.0,-1.7 1.2,-2.1",
  "-2.8 -2.5 -2.2 -1.9 -1.6 -1.3 -1.0 -0.7,-0.05 -0.3,-0.15 0.1,-0.35 0.53,-0.77 0.88,-1.69 1.04,-2.11",
  "-2.71 -2.29 -2.0 -1.7 -1.4 -1.1 -0.8 -0.5,-0.05 -0.1,-0.2 0.4,-0.65 0.83,-1.2 1.06,-1.83 1.26,-2.0",
  "-2.76 -2.45 -2.15 -1.85 -1.55 -1.25 -0.95 -0.65,-0.05 -0.3,-0.15 0.2,-0.5 0.6,-0.95 0.85,-1.3 0.96,-1.55",
  "-2.83 -2.5 -2.2 -1.9 -1.6 -1.3 -1.0 -0.7,-0.05 -0.3,-0.18 0.2,-0.55 0.89,-1.69 1.07,-1.92 1.4,-1.8"
];
const l3Pts = [
  "-2.4 -2.2 -1.9 -1.6 -1.3 -1.0 -0.7 -0.4,-0.05 -0.1,-0.15 0.2,-0.35 0.4,-0.6 0.55,-0.85 0.64,-1.18 0.8,-1.45 1.03,-2.0",
  "-2.4 -2.1 -1.8 -1.5 -1.2 -0.9 -0.6 -0.3,-0.08 0.07,-0.3 0.32,-0.44 0.5,-0.7 0.6,-0.94 0.68,-1.4 0.85,-1.2",
  "-2.5 -2.2 -1.9 -1.6 -1.3 -1.0 -0.7,-0.05 -0.3,-0.15 0.2,-0.45 0.5,-0.85 0.7,-1.2",
  "-2.4 -2.1 -1.8 -1.5 -1.2 -0.9 -0.6,-0.05 -0.2,-0.2 0.25,-0.5 0.55,-0.95 0.75,-1.3",
  "-2.45 -2.15 -1.85 -1.55 -1.25 -0.95 -0.65,-0.05 -0.25,-0.18 0.2,-0.45 0.6,-0.95 0.85,-1.4",
  "-2.45 -2.15 -1.85 -1.55 -1.25 -0.95 -0.65,-0.05 -0.25,-0.18 0.2,-0.5 0.5,-1.05 0.7,-1.35",
  "-2.36 -2.0 -1.7 -1.4 -1.1 -0.8 -0.5,-0.04 -0.01,-0.14 0.21,-0.35 0.33,-0.51 0.42,-0.7 0.6,-1.48",
  "-2.6 -2.3 -2.0 -1.7 -1.4 -1.1 -0.8 -0.5,-0.05 -0.2,-0.15 0.1,-0.38 0.33,-0.6 0.45,-0.81 0.6,-1.41",
  "-2.27 -2.0 -1.7 -1.4 -1.1 -0.8 -0.5,-0.05 -0.2,-0.15 0.19,-0.39 0.44,-0.81 0.66,-1.31 0.81,-1.66",
  "-2.4 -2.1 -1.8 -1.5 -1.2 -0.9 -0.6,-0.05 -0.3,-0.15 -0.01,-0.42 0.12,-0.6 0.35,-0.85 0.6,-1.34 0.7,-1.4",
  "-2.4 -2.1 -1.8 -1.5 -1.2 -0.9 -0.6,-0.05 -0.2,-0.2 0.25,-0.5 0.55,-0.95 0.75,-1.35",
  "-2.4 -2.1 -1.8 -1.5 -1.2 -0.9 -0.6,-0.05 -0.2,-0.2 0.2,-0.45 0.36,-1.55 0.6,-1.0",
  "-2.44 -2.1 -1.8 -1.5 -1.2 -0.9 -0.6,-0.05 -0.2,-0.2 0.13,-0.43 0.4,-1.03 0.55,-1.41 0.73,-1.71",
  "-2.4 -2.1 -1.8 -1.5 -1.2 -0.9 -0.6,-0.05 -0.2,-0.2 0.2,-0.45 0.49,-0.73 0.62,-1.19",
  "-3.0 -2.6 -2.3 -2.0 -1.7 -1.4 -1.1 -0.8 -0.5,-0.05 -0.2,-0.15 0.1,-0.3 0.4,-0.66 0.68,-1.15",
  "-2.49 -2.2 -1.9 -1.6 -1.3 -1.0 -0.7,-0.05 -0.3,-0.15 0.2,-0.5 0.61,-0.92 0.76,-1.07",
  "-2.69 -2.4 -2.1 -1.8 -1.5 -1.2 -0.9 -0.6,-0.05 -0.3,-0.15 0.2,-0.45 0.54,-1.45 0.62,-1.55",
  "-2.49 -2.2 -1.9 -1.6 -1.3 -1.0 -0.7,-0.05 -0.3,-0.15 0.15,-0.45 0.46,-0.77 0.7,-1.22",
  "-2.49 -2.2 -1.9 -1.6 -1.3 -1.0 -0.7,-0.05 -0.3,-0.15 0.31,-0.51 0.5,-0.9 0.62,-1.75",
  "-2.22 -1.9 -1.6 -1.3 -1.0 -0.7,-0.05 -0.3,-0.15 0.2,-0.4 0.49,-0.55 0.68,-1.07",
  "-2.53 -2.2 -1.9 -1.6 -1.3 -1.0 -0.7,-0.05 -0.3,-0.15 0.31,-0.51 0.55,-0.9 0.78,-1.3",
  "-2.4 -2.1 -1.8 -1.5 -1.2 -0.9 -0.6,-0.04 -0.2,-0.18 0.34,-0.51 0.61,-0.88 0.83,-1.26",
  "-2.5 -2.2 -1.9 -1.6 -1.3 -1.0 -0.7,-0.05 -0.3,-0.15 0.2,-0.4 0.5,-0.9 0.72,-0.73 0.6,-1.1",
  "-2.5 -2.2 -1.9 -1.6 -1.3 -1.0 -0.7,-0.05 -0.3,-0.15 0.2,-0.5 0.45,-0.85 0.61,-1.64",
  "-2.45 -2.15 -1.85 -1.55 -1.25 -0.95 -0.65,-0.05 -0.25,-0.18 0.2,-0.5 0.55,-1.0 0.7,-1.6",
  "-2.4 -2.1 -1.8 -1.5 -1.2 -0.9 -0.6,-0.05 -0.2,-0.2 0.25,-0.5 0.6,-0.95 0.85,-1.3",
  "-2.4 -2.1 -1.8 -1.5 -1.2 -0.9 -0.6,-0.05 -0.2,-0.2 0.25,-0.5 0.55,-0.9 0.75,-1.3",
  "-2.45 -2.15 -1.85 -1.55 -1.25 -0.95 -0.65,-0.05 -0.25,-0.18 0.2,-0.45 0.55,-0.9 0.8,-1.35",
  "-2.45 -2.15 -1.85 -1.55 -1.25 -0.95 -0.65,-0.05 -0.25,-0.18 0.2,-0.45 0.55,-0.9 0.8,-1.3",
  "-2.45 -2.15 -1.85 -1.55 -1.25 -0.95 -0.65,-0.05 -0.25,-0.18 0.2,-0.45 0.5,-0.85 0.75,-1.15",
  "-2.45 -2.15 -1.85 -1.55 -1.25 -0.95 -0.65,-0.05 -0.25,-0.18 0.2,-0.5 0.5,-0.95 0.7,-1.3",
  "-2.45 -2.15 -1.85 -1.55 -1.25 -0.95 -0.65,-0.05 -0.25,-0.18 0.2,-0.45 0.6,-0.95 0.85,-1.35",
  "-2.4 -2.1 -1.8 -1.5 -1.2 -0.9 -0.6,-0.05 -0.2,-0.2 0.25,-0.5 0.55,-0.95 0.75,-1.35",
  "-2.45 -2.15 -1.85 -1.55 -1.25 -0.95 -0.65,-0.05 -0.25,-0.18 0.2,-0.45 0.55,-0.9 0.8,-1.3",
  "-2.45 -2.15 -1.85 -1.55 -1.25 -0.95 -0.65,-0.05 -0.25,-0.18 0.2,-0.45 0.55,-0.9 0.8,-1.3",
  "-2.45 -2.15 -1.85 -1.55 -1.25 -0.95 -0.65,-0.05 -0.25,-0.18 0.2,-0.45 0.6,-1.0 0.85,-1.4",
  "-2.4 -2.1 -1.8 -1.5 -1.2 -0.9 -0.6,-0.05 -0.2,-0.2 0.25,-0.5 0.55,-0.95 0.75,-1.35",
  "-2.45 -2.15 -1.85 -1.55 -1.25 -0.95 -0.65,-0.05 -0.25,-0.18 0.2,-0.45 0.55,-0.9 0.8,-1.3",
  "-2.45 -2.15 -1.85 -1.55 -1.25 -0.95 -0.65,-0.05 -0.25,-0.18 0.2,-0.45 0.5,-0.9 0.72,-1.87",
  "-2.45 -2.15 -1.85 -1.55 -1.25 -0.95 -0.65,-0.05 -0.25,-0.18 0.2,-0.45 0.55,-0.85 0.8,-1.25",
  "-2.5 -2.2 -1.9 -1.6 -1.3 -1.0 -0.7,-0.05 -0.3,-0.15 0.35,-0.52 0.5,-0.9 0.6,-1.44",
  "-2.57 -2.06 -1.75 -1.45 -1.15 -0.85 -0.55,-0.04 -0.2,-0.15 0.2,-0.4 0.55,-0.77 0.7,-1.0",
  "-2.45 -2.15 -1.85 -1.55 -1.25 -0.95 -0.65,-0.04 -0.25,-0.15 0.2,-0.55 0.44,-0.81 0.55,-1.2",
  "-2.4 -2.1 -1.8 -1.5 -1.2 -0.9 -0.6,-0.05 -0.2,-0.2 0.3,-0.7 0.55,-1.05 0.89,-1.1"
];
const l4Pts = [
  "-2.2 -2.1 -2.0 -1.9 -1.8 -1.7 -1.6 -1.5 -1.4 -1.3 -1.2 -1.1 -1.0 -0.9 -0.8 -0.7 -0.6 -0.5,-0.02 -0.4,-0.05 -0.3,-0.08 -0.2,-0.14 -0.1,-0.2 0.0,-0.28 0.1,-0.36 0.2,-0.46",
  "-2.44 -2.34 -2.24 -2.14 -2.04 -1.94 -1.84 -1.74 -1.64 -1.54 -1.44 -1.34 -1.24 -1.14 -1.04 -0.94 -0.84 -0.74 -0.64 -0.54 -0.44 -0.34,-0.02 -0.24,-0.04 -0.14,-0.07 -0.04,-0.1 0.07,-0.14 0.15,-0.3 0.24,-0.76",
  "-2.3 -2.2 -2.1 -2.0 -1.9 -1.8 -1.7 -1.6 -1.5 -1.4 -1.3 -1.2 -1.1 -1.0 -0.9 -0.8 -0.7 -0.6 -0.5 -0.4,-0.03 -0.3,-0.05 -0.2,-0.08 -0.05,-0.15 0.1,-0.3 0.3,-0.75",
  "-2.2 -2.1 -2.0 -1.9 -1.8 -1.7 -1.6 -1.5 -1.4 -1.3 -1.2 -1.1 -1.0 -0.9 -0.8 -0.7 -0.6 -0.5 -0.4 -0.3,-0.03 -0.2,-0.06 -0.05,-0.12 0.1,-0.3 0.18,-1.6 0.3,-0.7",
  "-2.25 -2.15 -2.05 -1.95 -1.85 -1.75 -1.65 -1.55 -1.45 -1.35 -1.25 -1.15 -1.05 -0.95 -0.85 -0.75 -0.65 -0.55 -0.45 -0.35,-0.03 -0.25,-0.06 -0.1,-0.12 0.15,-0.3 0.35,-0.75",
  "-2.3 -2.2 -2.1 -2.0 -1.9 -1.8 -1.7 -1.6 -1.5 -1.4 -1.3 -1.2 -1.1 -1.0 -0.9 -0.8 -0.7 -0.6 -0.5 -0.4,-0.03 -0.3,-0.05 -0.15,-0.1 0.0,-0.2 0.25,-0.6",
  "-2.15 -2.05 -1.95 -1.85 -1.75 -1.65 -1.55 -1.45 -1.35 -1.25 -1.15 -1.05 -0.95 -0.85 -0.75 -0.65 -0.55 -0.45,-0.02 -0.35,-0.04 -0.26,-0.06 -0.13,-0.1 0.01,-0.21 0.11,-0.63 0.26,-1.33",
  "-2.5 -2.4 -2.3 -2.2 -2.1 -2.0 -1.9 -1.8 -1.7 -1.6 -1.5 -1.4 -1.3 -1.2 -1.1 -1.0 -0.9 -0.8 -0.7 -0.6 -0.5,-0.02 -0.4,-0.04 -0.3,-0.06 -0.2,-0.1 -0.1,-0.15 0.05,-0.3 0.27,-0.99",
  "-2.15 -2.05 -1.95 -1.85 -1.75 -1.65 -1.55 -1.45 -1.35 -1.25 -1.15 -1.05 -0.95 -0.85 -0.75 -0.65 -0.55 -0.45 -0.35,-0.03 -0.25,-0.06 -0.15,-0.1 0.0,-0.21 0.1,-0.35 0.19,-0.56 0.44,-1.13",
  "-2.28 -2.18 -2.08 -1.98 -1.88 -1.78 -1.68 -1.58 -1.48 -1.38 -1.28 -1.18 -1.08 -0.98 -0.88 -0.78 -0.68 -0.58 -0.48,-0.02 -0.38,-0.04 -0.28,-0.06 -0.18,-0.09 -0.05,-0.15 0.05,-0.28 0.29,-0.88",
  "-2.3 -2.2 -2.1 -2.0 -1.9 -1.8 -1.7 -1.6 -1.5 -1.4 -1.3 -1.2 -1.1 -1.0 -0.9 -0.8 -0.7 -0.6 -0.5 -0.4,-0.03 -0.3,-0.05 -0.2,-0.08 -0.05,-0.15 0.1,-0.3 0.3,-0.8",
  "-2.2 -2.1 -2.0 -1.9 -1.8 -1.7 -1.6 -1.5 -1.4 -1.3 -1.2 -1.1 -1.0 -0.9 -0.8 -0.7 -0.6 -0.5 -0.4,-0.03 -0.3,-0.05 -0.2,-0.08 -0.05,-0.15 0.15,-0.35 0.35,-0.7",
  "-2.07 -1.97 -1.87 -1.77 -1.67 -1.57 -1.47 -1.37 -1.27 -1.17 -1.07 -0.97 -0.87 -0.77 -0.67 -0.57,-0.02 -0.47,-0.04 -0.37,-0.06 -0.27,-0.1 -0.1,-0.17 0.04,-0.28 0.31,-0.62",
  "-2.22 -2.12 -2.02 -1.92 -1.82 -1.72 -1.62 -1.52 -1.42 -1.32 -1.22 -1.12 -1.02 -0.92 -0.82 -0.72 -0.62 -0.52,-0.02 -0.42,-0.04 -0.32,-0.06 -0.2,-0.1 -0.05,-0.17 0.07,-0.24 0.25,-0.5",
  "-2.25 -2.15 -2.05 -1.95 -1.85 -1.75 -1.65 -1.55 -1.45 -1.35 -1.25 -1.15 -1.05 -0.95 -0.85 -0.75 -0.65 -0.55,-0.02 -0.45,-0.04 -0.35,-0.06 -0.24,-0.1 -0.1,-0.2 0.0,-0.3 0.13,-0.51 0.4,-0.92",
  "-2.3 -2.2 -2.1 -2.0 -1.9 -1.8 -1.7 -1.6 -1.5 -1.4 -1.3 -1.2 -1.1 -1.0 -0.9 -0.8 -0.7 -0.6 -0.5,-0.02 -0.4,-0.04 -0.3,-0.06 -0.2,-0.09 -0.12,-0.12 0.1,-0.2 0.25,-0.32 0.45,-0.3 0.35,-0.6",
  "-2.14 -2.04 -1.94 -1.84 -1.74 -1.64 -1.54 -1.44 -1.34 -1.24 -1.14 -1.04 -0.94 -0.84 -0.74 -0.64 -0.54,-0.02 -0.44,-0.04 -0.34,-0.06 -0.23,-0.1 -0.1,-0.2 0.0,-0.35 0.14,-0.77",
  "-2.3 -2.2 -2.1 -2.0 -1.9 -1.8 -1.7 -1.6 -1.5 -1.4 -1.3 -1.2 -1.1 -1.0 -0.9 -0.8 -0.7 -0.6,-0.02 -0.5,-0.04 -0.4,-0.06 -0.3,-0.09 -0.15,-0.15 0.0,-0.3 0.25,-0.88 0.39,-0.4",
  "-2.25 -2.15 -2.05 -1.95 -1.85 -1.75 -1.65 -1.55 -1.45 -1.35 -1.25 -1.15 -1.05 -0.95 -0.85 -0.75 -0.65 -0.55 -0.45,-0.02 -0.35,-0.04 -0.25,-0.06 -0.15,-0.09 0.0,-0.15 0.1,-0.2 0.31,-0.28 0.4,-0.6",
  "-2.03 -1.93 -1.83 -1.73 -1.63 -1.53 -1.43 -1.33 -1.23 -1.13 -1.03 -0.93 -0.83 -0.73 -0.63 -0.53 -0.43,-0.02 -0.33,-0.03 -0.23,-0.05 -0.12,-0.08 -0.02,-0.12 0.2,-0.35 0.44,-1.07",
  "-2.25 -2.15 -2.05 -1.95 -1.85 -1.75 -1.65 -1.55 -1.45 -1.35 -1.25 -1.15 -1.05 -0.95 -0.85 -0.75 -0.65 -0.55,-0.02 -0.45,-0.04 -0.35,-0.06 -0.24,-0.1 -0.1,-0.15 0.05,-0.25 0.31,-0.81",
  "-2.3 -2.2 -2.1 -2.0 -1.9 -1.8 -1.7 -1.6 -1.5 -1.4 -1.3 -1.2 -1.1 -1.0 -0.9 -0.8 -0.7 -0.6 -0.5,-0.02 -0.4,-0.04 -0.3,-0.06 -0.21,-0.1 -0.1,-0.15 0.05,-0.3 0.34,-1.04",
  "-2.14 -2.04 -1.94 -1.84 -1.74 -1.64 -1.54 -1.44 -1.34 -1.24 -1.14 -1.04 -0.94 -0.84 -0.74 -0.64 -0.54 -0.41,-0.03 -0.3,-0.08 -0.2,-0.15 -0.05,-0.3 0.14,-0.73",
  "-2.2 -2.1 -2.0 -1.9 -1.8 -1.7 -1.6 -1.5 -1.4 -1.3 -1.2 -1.1 -1.0 -0.9 -0.8 -0.7 -0.6 -0.5,-0.02 -0.4,-0.04 -0.3,-0.06 -0.2,-0.1 -0.05,-0.18 0.05,-0.3 0.25,-0.85",
  "-2.3 -2.2 -2.1 -2.0 -1.9 -1.8 -1.7 -1.6 -1.5 -1.4 -1.3 -1.2 -1.1 -1.0 -0.9 -0.8 -0.7 -0.6 -0.5 -0.4,-0.03 -0.3,-0.05 -0.2,-0.08 -0.05,-0.15 0.1,-0.35 0.3,-0.9",
  "-2.2 -2.1 -2.0 -1.9 -1.8 -1.7 -1.6 -1.5 -1.4 -1.3 -1.2 -1.1 -1.0 -0.9 -0.8 -0.7 -0.6 -0.5 -0.4,-0.03 -0.3,-0.05 -0.2,-0.08 -0.05,-0.15 0.1,-0.3 0.3,-0.8",
  "-2.3 -2.2 -2.1 -2.0 -1.9 -1.8 -1.7 -1.6 -1.5 -1.4 -1.3 -1.2 -1.1 -1.0 -0.9 -0.8 -0.7 -0.6 -0.5 -0.4,-0.03 -0.3,-0.05 -0.2,-0.08 -0.05,-0.15 0.1,-0.3 0.3,-0.85",
  "-2.3 -2.2 -2.1 -2.0 -1.9 -1.8 -1.7 -1.6 -1.5 -1.4 -1.3 -1.2 -1.1 -1.0 -0.9 -0.8 -0.7 -0.6 -0.5 -0.4,-0.03 -0.3,-0.05 -0.2,-0.08 -0.05,-0.15 0.1,-0.3 0.3,-0.75",
  "-2.25 -2.15 -2.05 -1.95 -1.85 -1.75 -1.65 -1.55 -1.45 -1.35 -1.25 -1.15 -1.05 -0.95 -0.85 -0.75 -0.65 -0.55 -0.45 -0.35,-0.03 -0.25,-0.05 -0.1,-0.1 0.1,-0.3 0.3,-0.8",
  "-2.2 -2.1 -2.0 -1.9 -1.8 -1.7 -1.6 -1.5 -1.4 -1.3 -1.2 -1.1 -1.0 -0.9 -0.8 -0.7 -0.6 -0.5 -0.4,-0.03 -0.3,-0.05 -0.2,-0.08 -0.05,-0.15 0.1,-0.25 0.5,-0.26",
  "-2.3 -2.2 -2.1 -2.0 -1.9 -1.8 -1.7 -1.6 -1.5 -1.4 -1.3 -1.2 -1.1 -1.0 -0.9 -0.8 -0.7 -0.6 -0.5 -0.4,-0.03 -0.3,-0.05 -0.2,-0.08 -0.05,-0.15 0.1,-0.3 0.3,-0.85",
  "-2.25 -2.15 -2.05 -1.95 -1.85 -1.75 -1.65 -1.55 -1.45 -1.35 -1.25 -1.15 -1.05 -0.95 -0.85 -0.75 -0.65 -0.55 -0.45 -0.35,-0.03 -0.25,-0.05 -0.1,-0.1 0.1,-0.3 0.3,-0.7",
  "-2.2 -2.1 -2.0 -1.9 -1.8 -1.7 -1.6 -1.5 -1.4 -1.3 -1.2 -1.1 -1.0 -0.9 -0.8 -0.7 -0.6 -0.5 -0.4,-0.03 -0.3,-0.05 -0.2,-0.08 -0.05,-0.15 0.1,-0.3 0.3,-0.85",
  "-2.3 -2.2 -2.1 -2.0 -1.9 -1.8 -1.7 -1.6 -1.5 -1.4 -1.3 -1.2 -1.1 -1.0 -0.9 -0.8 -0.7 -0.6 -0.5 -0.4,-0.03 -0.3,-0.05 -0.2,-0.08 -0.05,-0.15 0.1,-0.3 0.3,-0.8",
  "-2.25 -2.15 -2.05 -1.95 -1.85 -1.75 -1.65 -1.55 -1.45 -1.35 -1.25 -1.15 -1.05 -0.95 -0.85 -0.75 -0.65 -0.55 -0.45 -0.35,-0.03 -0.25,-0.05 -0.1,-0.1 0.1,-0.3 0.3,-0.8",
  "-2.3 -2.2 -2.1 -2.0 -1.9 -1.8 -1.7 -1.6 -1.5 -1.4 -1.3 -1.2 -1.1 -1.0 -0.9 -0.8 -0.7 -0.6 -0.5 -0.4,-0.03 -0.3,-0.05 -0.2,-0.08 -0.05,-0.15 0.1,-0.3 0.5,0.0",
  "-2.2 -2.1 -2.0 -1.9 -1.8 -1.7 -1.6 -1.5 -1.4 -1.3 -1.2 -1.1 -1.0 -0.9 -0.8 -0.7 -0.6 -0.5 -0.4,-0.03 -0.3,-0.05 -0.2,-0.08 -0.05,-0.15 0.1,-0.3 0.3,-0.85",
  "-2.25 -2.15 -2.05 -1.95 -1.85 -1.75 -1.65 -1.55 -1.45 -1.35 -1.25 -1.15 -1.05 -0.95 -0.85 -0.75 -0.65 -0.55 -0.45 -0.35,-0.03 -0.25,-0.05 -0.1,-0.1 0.1,-0.3 0.3,-0.8",
  "-2.3 -2.2 -2.1 -2.0 -1.9 -1.8 -1.7 -1.6 -1.5 -1.4 -1.3 -1.2 -1.1 -1.0 -0.9 -0.8 -0.7 -0.6 -0.5 -0.4,-0.03 -0.3,-0.05 -0.2,-0.08 -0.05,-0.15 0.1,-0.3 0.3,-0.8",
  "-2.3 -2.2 -2.1 -2.0 -1.9 -1.8 -1.7 -1.6 -1.5 -1.4 -1.3 -1.2 -1.1 -1.0 -0.9 -0.8 -0.7 -0.6 -0.5 -0.4,-0.03 -0.3,-0.05 -0.2,-0.08 -0.05,-0.15 0.1,-0.3 0.3,-0.75",
  "-2.3 -2.2 -2.1 -2.0 -1.9 -1.8 -1.7 -1.6 -1.5 -1.4 -1.3 -1.2 -1.1 -1.0 -0.9 -0.8 -0.7 -0.6 -0.5,-0.02 -0.4,-0.04 -0.3,-0.06 -0.15,-0.1 0.0,-0.2 0.15,-0.45 0.3,-1.3",
  "-1.97 -1.87 -1.77 -1.67 -1.57 -1.47 -1.37 -1.27 -1.17 -1.07 -0.97 -0.87 -0.77 -0.67 -0.57 -0.47 -0.37 -0.27,-0.02 -0.17,-0.03 -0.07,-0.05 0.03,-0.08 0.14,-0.12 0.28,-0.28 0.46,-0.5",
  "-2.24 -2.14 -2.04 -1.94 -1.84 -1.74 -1.64 -1.54 -1.44 -1.34 -1.24 -1.14 -1.04 -0.94 -0.84 -0.74 -0.64 -0.54 -0.44 -0.34,-0.02 -0.2,-0.04 -0.1,-0.06 0.0,-0.1 0.07,-0.2 0.2,-0.55 0.29,-0.92",
  "-2.2 -2.1 -2.0 -1.9 -1.8 -1.7 -1.6 -1.5 -1.4 -1.3 -1.2 -1.1 -1.0 -0.9 -0.8 -0.7 -0.6 -0.5,-0.02 -0.4,-0.04 -0.3,-0.06 -0.2,-0.1 -0.12,-0.15 0.15,-0.7 0.3,-0.9"
];
const theoryPts = [
  "-4.37,0 -0.8,-0.02 -0.3,-0.1 0,-0.28 0.38,-0.72 0.81,-1.43 1.16,-2.0 2.68,-4.86",
  "-3.9,0 -0.8,-0.02 -0.41,-0.06 0.07,-0.27 0.56,-0.73 1.13,-1.72 1.57,-2.64 2.3,-4.23",
  "-4.79,0 -1.5,-0.01 -1.0,-0.04 -0.5,-0.13 0,-0.36 0.5,-0.85 1.0,-1.68 1.5,-2.7 2.23,-4.14",
  "-4.9,0 -1.5,-0.01 -1.0,-0.04 -0.5,-0.13 0,-0.36 0.5,-0.85 1.0,-1.62 1.6,-2.72 2.37,-4.14",
  "-4.72,0 -1.5,-0.01 -1.0,-0.04 -0.5,-0.13 0,-0.36 0.5,-0.85 1.0,-1.62 1.5,-2.7 2.11,-3.94",
  "-5,0 -1.5,-0.01 -1.0,-0.04 -0.5,-0.14 0,-0.38 0.5,-0.9 1.0,-1.75 1.5,-2.7 1.96,-3.4",
  "-4.66,0 -1.5,-0.01 -1.0,-0.04 -0.5,-0.11 0,-0.3 0.48,-0.68 0.97,-1.41 1.39,-2.26 1.97,-3.71",
  "-4.2,0 -1.5,-0.01 -1.0,-0.04 -0.5,-0.13 0,-0.36 0.4,-0.8 0.82,-1.56 1.4,-2.74 1.95,-3.85",
  "-4.09,0 -1.5,-0.01 -1.0,-0.04 -0.5,-0.12 0,-0.33 0.45,-0.78 1.0,-1.6 1.6,-2.95 2.34,-4.61",
  "-4.94,0 -1.5,-0.01 -1.0,-0.04 -0.5,-0.12 0,-0.33 0.45,-0.78 1.0,-1.55 1.6,-2.75 2.5,-4.56",
  "-4.8,0 -1.5,-0.01 -1.0,-0.04 -0.5,-0.13 0,-0.36 0.5,-0.85 1.0,-1.62 1.6,-2.85 2.3,-4.3",
  "-4.6,0 -1.5,-0.01 -1.0,-0.04 -0.5,-0.14 0,-0.38 0.5,-0.9 1.0,-1.72 1.5,-2.75 1.95,-3.7",
  "-3.85,0 -1.5,-0.01 -1.0,-0.04 -0.5,-0.13 0,-0.36 0.45,-0.8 0.9,-1.55 1.4,-2.45 1.96,-3.55",
  "-4.69,0 -1.5,-0.01 -1.0,-0.04 -0.5,-0.14 0,-0.38 0.45,-0.85 0.9,-1.62 1.5,-2.85 2.27,-4.43",
  "-5,0 -1.5,-0.01 -1.0,-0.04 -0.5,-0.12 0,-0.34 0.5,-0.82 1.0,-1.62 1.5,-2.6 2.14,-4.2",
  "-5,0 -1.5,-0.01 -1.0,-0.04 -0.5,-0.14 0,-0.38 0.5,-0.88 1.0,-1.62 1.5,-2.6 2.03,-3.53",
  "-4.24,0 -1.5,-0.01 -1.0,-0.04 -0.5,-0.14 0,-0.38 0.5,-0.88 1.0,-1.7 1.5,-2.7 2.14,-4.2",
  "-4.67,0 -1.5,-0.01 -1.0,-0.04 -0.5,-0.14 0,-0.38 0.5,-0.88 1.0,-1.68 1.6,-2.9 2.29,-4.58",
  "-4.51,0 -1.5,-0.01 -1.0,-0.04 -0.5,-0.14 0,-0.38 0.5,-0.85 1.0,-1.68 1.4,-2.45 1.9,-3.58",
  "-4.32,0 -1.5,-0.01 -1.0,-0.04 -0.5,-0.13 0,-0.36 0.5,-0.85 1.0,-1.66 1.5,-2.6 2.09,-3.87",
  "-4.18,0 -1.5,-0.01 -1.0,-0.04 -0.5,-0.13 0,-0.36 0.5,-0.85 1.0,-1.7 1.5,-2.7 2.0,-3.83",
  "-4.49,0 -1.5,-0.01 -1.0,-0.04 -0.5,-0.13 0,-0.36 0.5,-0.85 1.0,-1.6 1.5,-2.7 2.07,-3.98",
  "-4.33,0 -1.5,-0.01 -1.0,-0.04 -0.5,-0.13 0,-0.36 0.5,-0.85 1.0,-1.68 1.5,-2.6 2.14,-3.9",
  "-4.67,0 -1.5,-0.01 -1.0,-0.04 -0.5,-0.13 0,-0.36 0.5,-0.85 1.0,-1.62 1.6,-2.85 2.43,-4.66",
  "-4.78,0 -1.5,-0.01 -1.0,-0.04 -0.5,-0.14 0,-0.38 0.5,-0.9 1.0,-1.75 1.5,-2.75 1.95,-3.65",
  "-4.1,0 -1.5,-0.01 -1.0,-0.04 -0.5,-0.13 0,-0.36 0.5,-0.85 1.0,-1.65 1.5,-2.65 1.95,-3.6",
  "-4.05,0 -1.5,-0.01 -1.0,-0.04 -0.5,-0.13 0,-0.36 0.5,-0.85 1.0,-1.7 1.5,-2.8 2.0,-3.95",
  "-4.97,0 -1.5,-0.01 -1.0,-0.04 -0.5,-0.13 0,-0.36 0.5,-0.85 1.0,-1.65 1.5,-2.65 2.2,-4.1",
  "-4.33,0 -1.5,-0.01 -1.0,-0.04 -0.5,-0.13 0,-0.36 0.5,-0.85 1.0,-1.65 1.5,-2.7 2.11,-3.95",
  "-4.23,0 -1.5,-0.01 -1.0,-0.04 -0.5,-0.13 0,-0.36 0.5,-0.85 1.0,-1.65 1.5,-2.7 2.2,-4.0",
  "-4.78,0 -1.5,-0.01 -1.0,-0.04 -0.5,-0.14 0,-0.38 0.5,-0.9 1.0,-1.72 1.5,-2.8 2.0,-3.9",
  "-5,0 -1.5,-0.01 -1.0,-0.04 -0.5,-0.13 0,-0.36 0.5,-0.85 1.0,-1.65 1.5,-2.7 2.2,-4.05",
  "-4.05,0 -1.5,-0.01 -1.0,-0.04 -0.5,-0.13 0,-0.36 0.5,-0.85 1.0,-1.7 1.5,-2.8 2.0,-3.85",
  "-4.7,0 -1.5,-0.01 -1.0,-0.04 -0.5,-0.13 0,-0.36 0.5,-0.85 1.0,-1.7 1.5,-2.8 2.2,-4.1",
  "-4.64,0 -1.5,-0.01 -1.0,-0.04 -0.5,-0.13 0,-0.36 0.5,-0.85 1.0,-1.65 1.5,-2.7 2.11,-3.95",
  "-5,0 -1.5,-0.01 -1.0,-0.04 -0.5,-0.13 0,-0.36 0.5,-0.85 1.0,-1.7 1.5,-2.8 2.16,-4.15",
  "-4.35,0 -1.5,-0.01 -1.0,-0.04 -0.5,-0.14 0,-0.38 0.5,-0.9 1.0,-1.75 1.5,-2.8 2.0,-3.7",
  "-4.33,0 -1.5,-0.01 -1.0,-0.04 -0.5,-0.13 0,-0.36 0.5,-0.85 1.0,-1.7 1.5,-2.8 2.15,-4.1",
  "-4.83,0 -1.5,-0.01 -1.0,-0.04 -0.5,-0.13 0,-0.36 0.5,-0.85 1.0,-1.7 1.5,-2.8 2.04,-3.95",
  "-4.85,0 -1.5,-0.01 -1.0,-0.04 -0.5,-0.13 0,-0.36 0.5,-0.85 1.0,-1.65 1.6,-2.85 2.3,-4.25",
  "-4.3,0 -1.5,-0.01 -1.0,-0.04 -0.5,-0.13 0,-0.36 0.5,-0.85 1.0,-1.5 1.5,-2.5 2.11,-3.85",
  "-4.13,0 -1.5,-0.01 -1.0,-0.04 -0.5,-0.15 0,-0.4 0.5,-0.9 1.0,-2.0 1.5,-3.15 2.11,-4.58",
  "-4.25,0 -1.5,-0.01 -1.0,-0.04 -0.5,-0.14 0,-0.38 0.5,-0.88 1.0,-1.65 1.5,-2.65 2.08,-3.94",
  "-4.36,0 -1.5,-0.01 -1.0,-0.04 -0.5,-0.14 0,-0.38 0.5,-0.9 1.0,-1.75 1.5,-2.85 2.04,-4.02"
];

const xMajor = [1e-5, 1e-1, 1e3];
const yMajor = [1e-5, 1e-2];
const legendLabels = ["0", "1", "2", "3", "4"];

// ---- layout ----
const W = 358, H = 249;
const X0 = 172, DX = 393.4, Y0 = 15, DY = 288;
const NCOL = 6;
const SERIF = "Liberation Serif, DejaVu Serif, serif";

const svg = d3.select("#fig");
const x = d3.scaleLog().domain([1e-5, 5e3]).range([0, W]);
const y = d3.scaleLog().domain([1e-5, 2]).range([H, 0]);

const parsePts = s => s.trim().split(/\s+/).map(t => {
  const p = t.split(",");
  return [Math.pow(10, +p[0]), Math.pow(10, p.length > 1 ? +p[1] : 0)];
});

const shapes = {
  square: "M-7.6,-7.6H7.6V7.6H-7.6Z",
  circle: "M7.9,0A7.9,7.9 0 1,1 -7.9,0A7.9,7.9 0 1,1 7.9,0Z",
  up: "M0,-9.6L8.8,5.8L-8.8,5.8Z",
  down: "M0,9.6L8.8,-5.8L-8.8,-5.8Z",
  diamond: "M0,-9.5L6,0L0,9.5L-6,0Z"
};
const series = [
  {data: l0Pts, shape: shapes.square, color: "#ff4000"},
  {data: l1Pts, shape: shapes.circle, color: "#1f77b4"},
  {data: l2Pts, shape: shapes.up, color: "#2ca02c"},
  {data: l3Pts, shape: shapes.down, color: "#ff7f0e"},
  {data: l4Pts, shape: shapes.diamond, color: "#5f98e8"}
];

function minorTicks(lo, hi, majors) {
  const out = [];
  for (let e = Math.floor(Math.log10(lo)); e <= Math.ceil(Math.log10(hi)); e++)
    for (let m = 1; m < 10; m++) {
      const v = m * Math.pow(10, e);
      if (v >= lo * 0.999 && v <= hi * 1.001 && !majors.some(a => Math.abs(a / v - 1) < 1e-6)) out.push(v);
    }
  return out;
}
const xMinor = minorTicks(1e-5, 5e3, xMajor);
const yMinor = minorTicks(1e-5, 2, yMajor);

function txt(sel) {
  return sel.append("text").attr("font-family", SERIF);
}
function powLabel(t, e) {
  t.append("tspan").text("10");
  t.append("tspan").attr("font-size", 25).attr("dy", -15).text(e < 0 ? "\u2212" + (-e) : String(e));
}

const line = d3.line().x(d => x(d[0])).y(d => y(d[1])).curve(d3.curveMonotoneX);

function drawPanel(k) {
  const c = k % NCOL, r = Math.floor(k / NCOL);
  const g = svg.append("g").attr("transform", `translate(${X0 + c * DX},${Y0 + r * DY})`);

  g.append("clipPath").attr("id", "clip" + k)
    .append("rect").attr("width", W).attr("height", H);
  const plot = g.append("g").attr("clip-path", `url(#clip${k})`);

  series.forEach(s => {
    plot.append("g").selectAll("path")
      .data(parsePts(s.data[k]))
      .join("path")
      .attr("d", s.shape)
      .attr("transform", d => `translate(${x(d[0])},${y(d[1])})`)
      .attr("fill", s.color)
      .attr("stroke", "#161616")
      .attr("stroke-width", 1);
  });

  plot.append("path")
    .datum(parsePts(theoryPts[k]))
    .attr("d", line)
    .attr("fill", "none")
    .attr("stroke", "#6b6b6b")
    .attr("stroke-width", 3.6);

  // ticks (inside, left + bottom only)
  const axB = g.append("g").attr("transform", `translate(0,${H})`);
  axB.append("g").call(d3.axisBottom(x).tickValues(xMinor).tickSize(-5.5).tickFormat(""))
    .call(a => a.select(".domain").remove())
    .selectAll("line").attr("stroke-width", 1.3);
  axB.append("g").call(d3.axisBottom(x).tickValues(xMajor).tickSize(-11).tickFormat(""))
    .call(a => a.select(".domain").remove())
    .selectAll("line").attr("stroke-width", 1.7);
  const axL = g.append("g");
  axL.append("g").call(d3.axisLeft(y).tickValues(yMinor).tickSize(-5.5).tickFormat(""))
    .call(a => a.select(".domain").remove())
    .selectAll("line").attr("stroke-width", 1.3);
  axL.append("g").call(d3.axisLeft(y).tickValues(yMajor).tickSize(-11).tickFormat(""))
    .call(a => a.select(".domain").remove())
    .selectAll("line").attr("stroke-width", 1.7);

  if (k === 0) drawLegend(g);

  g.append("rect").attr("width", W).attr("height", H)
    .attr("fill", "none").attr("stroke", "#000").attr("stroke-width", 2.2);

  txt(g).attr("x", W * 0.6).attr("y", H - 25)
    .attr("text-anchor", "middle").attr("font-size", 38)
    .text("No." + k);

  // tick labels and axis labels
  if (c === 0) {
    yMajor.forEach(v => {
      const t = txt(g).attr("x", -8).attr("y", y(v) + 13)
        .attr("text-anchor", "end").attr("font-size", 36);
      powLabel(t, Math.round(Math.log10(v)));
    });
    const yl = txt(g)
      .attr("transform", `translate(-102,${H / 2}) rotate(-90)`)
      .attr("text-anchor", "middle").attr("font-size", 48);
    yl.append("tspan").attr("font-style", "italic").text("p");
    yl.append("tspan").attr("font-size", 32).attr("dy", -20).text("(");
    yl.append("tspan").attr("font-size", 32).attr("font-style", "italic").text("l");
    yl.append("tspan").attr("font-size", 32).text(")");
    yl.append("tspan").attr("dy", 20).attr("dx", 2).text("(");
    yl.append("tspan").attr("font-style", "italic").text("\u03bb");
    yl.append("tspan").attr("font-size", 32).attr("font-style", "italic").attr("dy", 10).text("ij");
    yl.append("tspan").attr("font-size", 32).attr("dx", -14).attr("dy", -30).text("(");
    yl.append("tspan").attr("font-size", 32).attr("font-style", "italic").text("l");
    yl.append("tspan").attr("font-size", 32).text(")");
    yl.append("tspan").attr("dy", 20).attr("dx", 2).text(")");
  }
  const bottom = (r === 7) || (r === 6 && c >= 2);
  if (bottom) {
    xMajor.forEach(v => {
      const t = txt(g).attr("x", x(v)).attr("y", H + 50)
        .attr("text-anchor", "middle").attr("font-size", 37);
      powLabel(t, Math.round(Math.log10(v)));
    });
    const xl = txt(g).attr("x", W / 2).attr("y", H + 112)
      .attr("text-anchor", "middle").attr("font-size", 46);
    xl.append("tspan").attr("font-style", "italic").text("\u03bb");
    xl.append("tspan").attr("font-size", 30).attr("font-style", "italic").attr("dy", 10).text("ij");
    xl.append("tspan").attr("font-size", 30).attr("dx", -14).attr("dy", -32).text("(");
    xl.append("tspan").attr("font-size", 30).attr("font-style", "italic").text("l");
    xl.append("tspan").attr("font-size", 30).text(")");
  }
}

function drawLegend(g) {
  const lg = g.append("g").attr("transform", "translate(15,23)");
  lg.append("rect").attr("width", 150).attr("height", 212)
    .attr("fill", "#fff").attr("stroke", "#444").attr("stroke-width", 1.6);
  txt(lg).attr("x", 76).attr("y", 30).attr("text-anchor", "middle")
    .attr("font-size", 25).text("GR");
  lg.append("line").attr("x1", 11).attr("x2", 37).attr("y1", 48).attr("y2", 48)
    .attr("stroke", "#6b6b6b").attr("stroke-width", 3.6);
  txt(lg).attr("x", 51).attr("y", 57).attr("font-size", 28).text("Theory");
  series.forEach((s, i) => {
    const cy = 75 + i * 27.3;
    lg.append("path").attr("d", s.shape).attr("transform", `translate(24,${cy})`)
      .attr("fill", s.color).attr("stroke", "#161616").attr("stroke-width", 1);
    const t = txt(lg).attr("x", 51).attr("y", cy + 9).attr("font-size", 28);
    t.append("tspan").attr("font-style", "italic").text("l");
    t.append("tspan").text(" =" + legendLabels[i]);
  });
}

d3.range(44).forEach(drawPanel);
</script>
</body>
</html>
